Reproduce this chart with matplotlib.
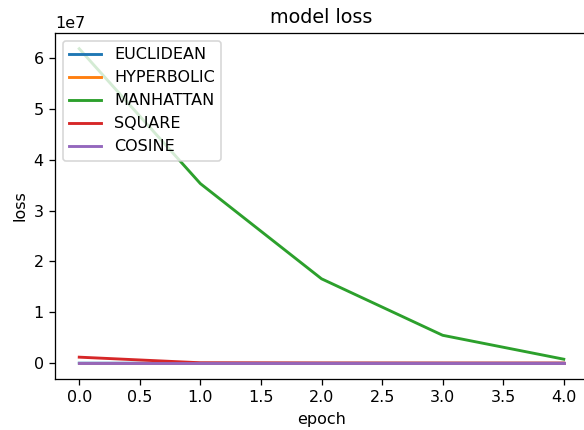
import matplotlib
matplotlib.use("Agg")
import matplotlib.pyplot as plt

# loss per epoch for each distance metric
epochs = [0, 1, 2, 3, 4]
euclidean = [21000, 9000, 7000, 6000, 5500]
hyperbolic = [3.2, 2.1, 1.8, 1.6, 1.5]
manhattan = [6.18e7, 3.53e7, 1.66e7, 0.55e7, 0.08e7]
square = [1.2e6, 1.0e5, 6.0e4, 5.0e4, 4.5e4]
cosine = [0.45, 0.32, 0.28, 0.26, 0.25]

DPI = 115
fig = plt.figure(figsize=(584 / DPI, 430 / DPI), dpi=DPI)
ax = fig.add_axes([55 / 584, 51 / 430, 533 / 584, 346 / 430])

ax.plot(epochs, euclidean, label='EUCLIDEAN', linewidth=1.8)
ax.plot(epochs, hyperbolic, label='HYPERBOLIC', linewidth=1.8)
ax.plot(epochs, manhattan, label='MANHATTAN', linewidth=1.8)
ax.plot(epochs, square, label='SQUARE', linewidth=1.8)
ax.plot(epochs, cosine, label='COSINE', linewidth=1.8)

ax.set_title('model loss')
ax.set_xlabel('epoch')
ax.set_ylabel('loss')
ax.legend(loc='upper left')

fig.savefig('out.png', dpi=DPI)
